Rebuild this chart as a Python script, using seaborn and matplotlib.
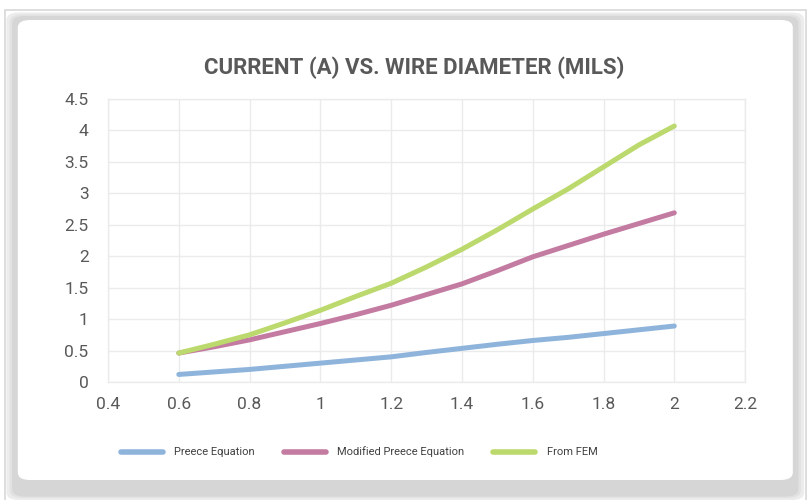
import matplotlib
matplotlib.use("Agg")
import matplotlib.pyplot as plt
from matplotlib.patches import FancyBboxPatch, Rectangle
import seaborn as sns
import pandas as pd

diameter = [0.6, 0.7, 0.8, 0.9, 1.0, 1.1, 1.2, 1.3, 1.4, 1.5, 1.6, 1.7, 1.8, 1.9, 2.0]
preece = [0.12, 0.16, 0.20, 0.25, 0.30, 0.35, 0.40, 0.47, 0.535, 0.60, 0.66, 0.71, 0.77, 0.83, 0.89]
modified = [0.46, 0.56, 0.67, 0.80, 0.93, 1.07, 1.22, 1.39, 1.56, 1.77, 1.99, 2.17, 2.35, 2.52, 2.69]
fem = [0.46, 0.60, 0.75, 0.94, 1.14, 1.36, 1.57, 1.83, 2.11, 2.42, 2.75, 3.07, 3.42, 3.77, 4.07]
series_names = ["Preece Equation", "Modified Preece Equation", "From FEM"]
colors = ["#8fb4dc", "#c37ba1", "#bbd96c"]
title = "CURRENT (A) VS. WIRE DIAMETER (MILS)"

df = pd.DataFrame({
    "Diameter": diameter * 3,
    "Current": preece + modified + fem,
    "Series": [series_names[0]] * len(diameter) + [series_names[1]] * len(diameter) + [series_names[2]] * len(diameter),
})

sns.set_theme(style="white")
plt.rcParams["font.family"] = ["Roboto", "DejaVu Sans"]

fig = plt.figure(figsize=(8.09, 5.0), dpi=100)
fig.patch.set_facecolor("white")

# outer frame and card with soft shadow
fig.patches.append(Rectangle((0.006, -0.01), 0.99, 0.99, transform=fig.transFigure,
                             fill=False, edgecolor="#d8d8d8", linewidth=1.2, zorder=0))
for pad, col in [(0.010, "#ececec"), (0.006, "#e2e2e2"), (0.003, "#d6d6d6")]:
    fig.patches.append(FancyBboxPatch((0.018 - pad, 0.01 - pad), 0.966 + 2 * pad, 0.955 + 2 * pad,
                                      boxstyle="round,pad=0,rounding_size=0.015",
                                      transform=fig.transFigure, facecolor=col,
                                      edgecolor="none", zorder=0))
fig.patches.append(FancyBboxPatch((0.022, 0.04), 0.958, 0.92,
                                  boxstyle="round,pad=0,rounding_size=0.015",
                                  transform=fig.transFigure, facecolor="white",
                                  edgecolor="none", zorder=0))

ax = fig.add_axes([0.1335, 0.236, 0.7875, 0.566])
ax.set_zorder(5)
ax.set_facecolor("none")
sns.lineplot(data=df, x="Diameter", y="Current", hue="Series", palette=colors,
             linewidth=3.6, ax=ax, legend=False)
for ln in ax.get_lines():
    ln.set_solid_capstyle("round")

ax.set_xlim(0.4, 2.2)
ax.set_ylim(0, 4.5)
ax.set_xticks([0.4, 0.6, 0.8, 1.0, 1.2, 1.4, 1.6, 1.8, 2.0, 2.2])
ax.set_xticklabels(["0.4", "0.6", "0.8", "1", "1.2", "1.4", "1.6", "1.8", "2", "2.2"])
ax.set_yticks([0, 0.5, 1, 1.5, 2, 2.5, 3, 3.5, 4, 4.5])
ax.set_yticklabels(["0", "0.5", "1", "1.5", "2", "2.5", "3", "3.5", "4", "4.5"])
ax.grid(True, color="#ebebeb", linewidth=1.0)
for s in ax.spines.values():
    s.set_color("#ebebeb")
    s.set_linewidth(1.0)
ax.tick_params(axis="both", length=0, labelsize=12.5, colors="#595959")
ax.tick_params(axis="x", pad=11)
ax.tick_params(axis="y", pad=14)
ax.set_xlabel("")
ax.set_ylabel("")

fig.text(0.512, 0.864, title, ha="center", va="center", fontsize=16,
         fontweight="bold", color="#595959", zorder=6)

handles = [plt.Line2D([0], [0], color=c, linewidth=4, solid_capstyle="round") for c in colors]
leg = fig.legend(handles, series_names, loc="center", bbox_to_anchor=(0.444, 0.096), ncol=3,
                 frameon=False, fontsize=8, handlelength=3.8, handletextpad=1.0,
                 columnspacing=2.6, labelcolor="#404040")
leg.set_zorder(6)

fig.savefig("out.png", dpi=100, facecolor="white")
